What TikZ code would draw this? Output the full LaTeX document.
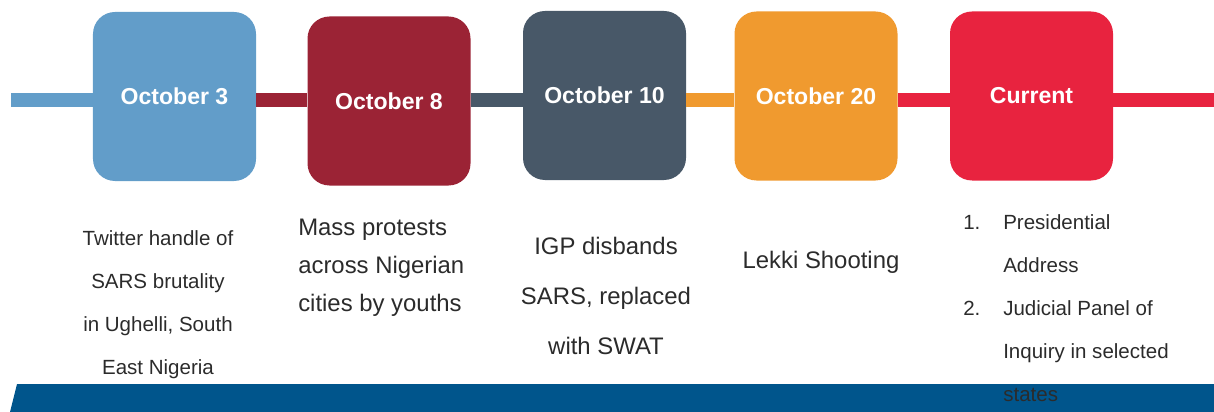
\documentclass[tikz,border=0pt]{standalone}
\usepackage{fontspec}
\setmainfont{Liberation Sans}
\usetikzlibrary{positioning}
\definecolor{octblue}{HTML}{629DC9}
\definecolor{octred}{HTML}{9B2335}
\definecolor{octslate}{HTML}{485868}
\definecolor{octorange}{HTML}{F09A2F}
\definecolor{octpink}{HTML}{E8233F}
\definecolor{barblue}{HTML}{00558C}
\definecolor{notegray}{HTML}{2B2B2B}
\tikzset{
  datebox/.style={rounded corners=5.5mm, minimum width=40.75mm, minimum height=42.25mm,
    inner sep=0pt, text=white, font=\fontsize{16.4}{19}\selectfont\bfseries},
  spine/.style={line width=3.5mm},
  note/.style={text=notegray, inner sep=0pt},
}
\begin{document}
\begin{tikzpicture}[x=0.25mm,y=-0.25mm]
\useasboundingbox (0,0) rectangle (1214,412);
% date boxes
\node[datebox, fill=octblue] (oct3) at (174.5,96.5) {October 3};
\node[datebox, fill=octred] (oct8) at (389,101) {October 8};
\node[datebox, fill=octslate] (oct10) at (604.5,95.5) {October 10};
\node[datebox, fill=octorange] (oct20) at (816,96) {October 20};
\node[datebox, fill=octpink] (now) at (1031.5,96) {Current};
% timeline
\coordinate (start) at (11,100);
\coordinate (end) at (1214,100);
\draw[spine, octblue] (start) -- (oct3.west |- start);
\draw[spine, octred] (oct3.east |- start) -- (oct8.west |- start);
\draw[spine, octslate] (oct8.east |- start) -- (oct10.west |- start);
\draw[spine, octorange] (oct10.east |- start) -- (oct20.west |- start);
\draw[spine, octpink] (oct20.east |- start) -- (now.west |- start);
\draw[spine, octpink] (now.east |- start) -- (end);
% footer bar
\fill[barblue] (17,384) -- (1214,384) -- (1214,412) -- (10,412) -- cycle;
% notes
\node[note, align=center, anchor=north, font=\fontsize{14.6}{30.6}\selectfont] (twitter) at (158,230)
  {Twitter handle of\\SARS brutality\\in Ughelli, South\\East Nigeria};
\node[note, align=left, anchor=north west, font=\fontsize{17}{27}\selectfont] (protests) at (298,219)
  {Mass protests\\across Nigerian\\cities by youths};
\node[note, align=center, anchor=north, font=\fontsize{17}{35.6}\selectfont] (disband) at (606,237)
  {IGP disbands\\SARS, replaced\\with SWAT};
\node[note, anchor=mid, font=\fontsize{17}{20}\selectfont] (lekki) at (821,265) {Lekki Shooting};
\node[note, align=left, anchor=north west, font=\fontsize{14.6}{30.6}\selectfont] (actions) at (963,214)
  {\makebox[10mm][l]{1.}Presidential\\\hspace*{10mm}Address\\
   \makebox[10mm][l]{2.}Judicial Panel of\\\hspace*{10mm}Inquiry in selected\\\hspace*{10mm}states};
\end{tikzpicture}
\end{document}
